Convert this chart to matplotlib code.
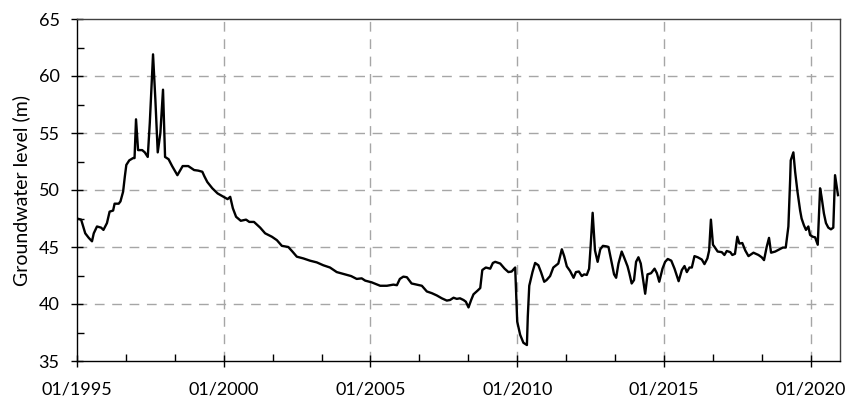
import numpy as np
import matplotlib
matplotlib.use("Agg")
from matplotlib import pyplot as plt
from matplotlib.ticker import FixedLocator, FuncFormatter

# decimal year of each reading, and groundwater level (m)
years = [
    1995.00, 1995.14, 1995.28, 1995.40, 1995.51, 1995.57, 1995.68, 1995.82, 1995.90,
    1996.02, 1996.11, 1996.23, 1996.28, 1996.42, 1996.48, 1996.57, 1996.63, 1996.68,
    1996.78, 1996.91, 1996.96, 1997.01, 1997.08, 1997.22, 1997.31, 1997.41, 1997.48,
    1997.59, 1997.67, 1997.75, 1997.84, 1997.93, 1998.00, 1998.12, 1998.24, 1998.42,
    1998.60, 1998.79, 1998.99, 1999.13, 1999.27, 1999.34, 1999.44, 1999.61, 1999.79,
    1999.99, 2000.13, 2000.22, 2000.31, 2000.42, 2000.58, 2000.76, 2000.87, 2001.03,
    2001.24, 2001.41, 2001.64, 2001.81, 2001.98, 2002.20, 2002.34, 2002.49, 2002.71,
    2002.94, 2003.17, 2003.39, 2003.62, 2003.85, 2004.13, 2004.34, 2004.53, 2004.70,
    2004.82, 2005.04, 2005.33, 2005.56, 2005.78, 2005.90, 2006.00, 2006.12, 2006.24,
    2006.40, 2006.58, 2006.75, 2006.92, 2007.09, 2007.26, 2007.43, 2007.60, 2007.71,
    2007.83, 2007.94, 2008.05, 2008.17, 2008.25, 2008.34, 2008.43, 2008.51, 2008.66,
    2008.74, 2008.81, 2008.93, 2009.08, 2009.17, 2009.25, 2009.42, 2009.57, 2009.70,
    2009.81, 2009.93, 2009.97, 2010.00, 2010.10, 2010.21, 2010.33, 2010.36, 2010.41,
    2010.52, 2010.61, 2010.72, 2010.81, 2010.92, 2011.00, 2011.12, 2011.23, 2011.40,
    2011.52, 2011.60, 2011.69, 2011.80, 2011.92, 2012.00, 2012.10, 2012.20, 2012.28,
    2012.37, 2012.45, 2012.50, 2012.57, 2012.65, 2012.74, 2012.83, 2012.92, 2013.05,
    2013.11, 2013.20, 2013.30, 2013.37, 2013.45, 2013.56, 2013.64, 2013.76, 2013.82,
    2013.90, 2013.98, 2014.05, 2014.13, 2014.21, 2014.30, 2014.36, 2014.44, 2014.56,
    2014.68, 2014.76, 2014.84, 2014.95, 2015.04, 2015.13, 2015.25, 2015.36, 2015.50,
    2015.61, 2015.70, 2015.78, 2015.87, 2015.95, 2016.04, 2016.15, 2016.29, 2016.38,
    2016.48, 2016.54, 2016.60, 2016.67, 2016.74, 2016.83, 2016.97, 2017.06, 2017.14,
    2017.26, 2017.33, 2017.42, 2017.50, 2017.57, 2017.67, 2017.77, 2017.88, 2018.05,
    2018.22, 2018.33, 2018.41, 2018.50, 2018.58, 2018.65, 2018.79, 2018.94, 2019.05,
    2019.15, 2019.24, 2019.30, 2019.32, 2019.41, 2019.47, 2019.55, 2019.64, 2019.69,
    2019.77, 2019.84, 2019.92, 2019.98, 2020.07, 2020.15, 2020.24, 2020.32, 2020.37,
    2020.45, 2020.52, 2020.60, 2020.69, 2020.77, 2020.83, 2020.93,
]
level = [
    47.5, 47.4, 46.2, 45.8, 45.5, 46.2, 46.8, 46.7, 46.5,
    47.1, 48.1, 48.2, 48.8, 48.8, 49.0, 49.85, 51.2, 52.2,
    52.6, 52.8, 52.8, 56.2, 53.5, 53.5, 53.3, 52.9, 55.9,
    61.9, 57.9, 53.3, 55.0, 58.8, 52.9, 52.7, 52.1, 51.3,
    52.1, 52.1, 51.75, 51.7, 51.6, 51.2, 50.7, 50.15, 49.7,
    49.4, 49.2, 49.4, 48.4, 47.65, 47.3, 47.4, 47.2, 47.2,
    46.7, 46.2, 45.9, 45.6, 45.1, 45.0, 44.6, 44.15, 44.0,
    43.8, 43.65, 43.4, 43.2, 42.8, 42.6, 42.45, 42.2, 42.25,
    42.05, 41.9, 41.6, 41.6, 41.7, 41.65, 42.2, 42.4, 42.35,
    41.8, 41.7, 41.6, 41.1, 40.95, 40.75, 40.5, 40.3, 40.35,
    40.55, 40.45, 40.5, 40.35, 40.2, 39.7, 40.35, 40.85, 41.2,
    41.4, 42.98, 43.2, 43.1, 43.6, 43.7, 43.55, 43.1, 42.8,
    42.85, 43.2, 40.35, 38.45, 37.3, 36.6, 36.4, 38.9, 41.6,
    42.8, 43.6, 43.4, 42.8, 41.95, 42.1, 42.45, 43.2, 43.55,
    44.8, 44.2, 43.3, 42.9, 42.3, 42.8, 42.85, 42.45, 42.6,
    42.55, 43.1, 45.0, 48.0, 44.7, 43.7, 44.8, 45.1, 45.05,
    45.0, 43.85, 42.6, 42.3, 43.55, 44.6, 44.1, 43.3, 42.7,
    41.8, 42.1, 43.7, 44.1, 43.55, 41.95, 40.9, 42.6, 42.7,
    43.1, 42.7, 41.95, 43.1, 43.7, 43.95, 43.8, 43.1, 42.0,
    42.98, 43.33, 42.8, 43.2, 43.2, 44.2, 44.1, 43.9, 43.5,
    44.0, 44.7, 47.4, 45.2, 44.95, 44.6, 44.55, 44.3, 44.65,
    44.55, 44.3, 44.4, 45.9, 45.3, 45.35, 44.7, 44.2, 44.5,
    44.3, 44.1, 43.85, 45.0, 45.8, 44.5, 44.6, 44.8, 44.95,
    44.95, 46.8, 50.9, 52.6, 53.3, 51.6, 49.85, 48.2, 47.5,
    46.9, 46.5, 46.8, 46.05, 45.9, 45.85, 45.2, 50.15, 49.4,
    47.95, 47.1, 46.7, 46.55, 46.7, 51.3, 49.55,
]

major_years = [1995, 2000, 2005, 2010, 2015, 2020]
y_ticks = [35, 40, 45, 50, 55, 60, 65]

plt.rcParams['font.family'] = ['Lato', 'DejaVu Sans']

fig = plt.figure(figsize=(8.53, 4.0), dpi=100)
ax = fig.add_axes([0.0903, 0.0975, 0.8945, 0.855])

ax.plot(years, level, color='black', lw=1.7, solid_joinstyle='round')

ax.set_xlim(1995, 2021)
ax.set_ylim(35, 65)

ax.xaxis.set_major_locator(FixedLocator(major_years))
ax.xaxis.set_minor_locator(FixedLocator([y + d for y in major_years for d in (5/3, 10/3)]))
ax.xaxis.set_major_formatter(FuncFormatter(lambda v, p: '01/%d' % round(v)))
ax.yaxis.set_major_locator(FixedLocator(y_ticks))
ax.yaxis.set_minor_locator(FixedLocator([v + 2.5 for v in y_ticks[:-1]]))

ax.tick_params(which='major', direction='inout', length=9, width=1.0, labelsize=13,
               colors='black')
ax.tick_params(axis='x', which='major', pad=10)
ax.tick_params(axis='y', which='major', pad=8)
ax.tick_params(which='minor', direction='in', length=5, width=1.0)

for v in major_years[1:]:
    ax.axvline(v, color='#a6a6a6', lw=1.0, ls=(0, (7, 5.5)), zorder=0)
for v in y_ticks[1:-1]:
    ax.axhline(v, color='#a6a6a6', lw=1.0, ls=(0, (7, 5.5)), zorder=0)

for s in ax.spines.values():
    s.set_linewidth(1.0)
ax.spines['top'].set_color('#404040')
ax.spines['right'].set_color('#404040')

ax.set_ylabel('Groundwater level (m)', fontsize=14, labelpad=6)

fig.savefig('out.png', dpi=100)
